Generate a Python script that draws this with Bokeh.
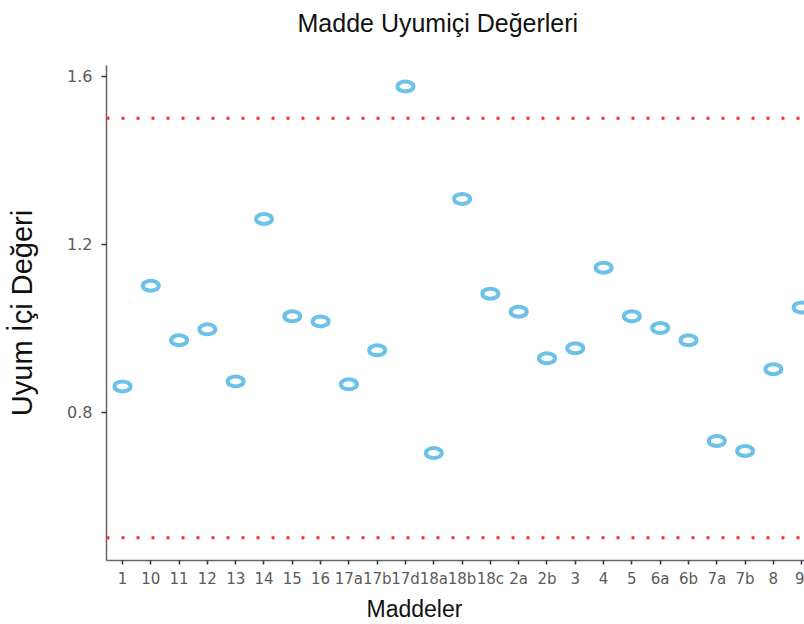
from bokeh.plotting import figure
from bokeh.models import Span, FixedTicker, ColumnDataSource, Range1d, Title
from bokeh.embed import file_html
from bokeh.resources import INLINE

items = ["1", "10", "11", "12", "13", "14", "15", "16", "17a", "17b", "17d", "18a",
         "18b", "18c", "2a", "2b", "3", "4", "5", "6a", "6b", "7a", "7b", "8", "9"]
infit = [0.861, 1.101, 0.971, 0.997, 0.873, 1.260, 1.028, 1.016, 0.866, 0.947, 1.576, 0.702,
         1.308, 1.082, 1.039, 0.928, 0.952, 1.144, 1.028, 1.000, 0.971, 0.731, 0.707, 0.902, 1.049]
y_ticks = [0.8, 1.2, 1.6]
limits = [0.5, 1.5]

idx = list(range(len(items)))
src = ColumnDataSource(dict(x=idx, y=infit, item=items))

p = figure(width=804, height=624, output_backend="svg", toolbar_location=None,
           x_range=Range1d(-0.565, 24.1), y_range=Range1d(0.446, 1.626),
           min_border_left=106, min_border_right=0, min_border_top=65, min_border_bottom=62)
# trailing empty line lifts the title higher above the plot area
p.title = Title(text="Madde Uyumiçi Değerleri\n ", align="left", offset=191,
                text_font="Liberation Sans", text_font_size="25px",
                text_font_style="normal", text_color="#111111", standoff=2)
p.outline_line_color = None
p.xgrid.visible = False
p.ygrid.visible = False
p.background_fill_color = "white"
p.border_fill_color = "white"

for v in limits:
    p.add_layout(Span(location=v, dimension="width", line_color="#ff2a2a",
                      line_width=3, line_dash="3 12"))

p.ellipse(x="x", y="y", width=16, height=10, width_units="screen", height_units="screen",
          fill_color=None, line_color="#6cc1e8", line_width=4, source=src)

xa = p.xaxis[0]
xa.ticker = FixedTicker(ticks=idx)
xa.major_label_overrides = {i: s for i, s in zip(idx, items)}
xa.major_label_text_font = "DejaVu Sans"
xa.major_label_text_font_size = "15px"
xa.major_label_text_color = "#5a5a5a"
xa.major_label_standoff = 5
xa.axis_line_color = "#666666"
xa.axis_line_width = 1.5
xa.major_tick_line_color = "#333333"
xa.major_tick_line_width = 1.5
xa.major_tick_out = 4
xa.major_tick_in = 0
xa.minor_tick_line_color = None

# x-axis title (the original plot is wider than the visible area, so it sits left of centre)
p.add_layout(Title(text="Maddeler", align="left", offset=260,
                   text_font="Liberation Sans", text_font_size="23px",
                   text_font_style="normal", text_color="#111111", standoff=6), "below")

ya = p.yaxis[0]
ya.ticker = FixedTicker(ticks=y_ticks)
ya.axis_label = "Uyum İçi Değeri"
ya.axis_label_text_font = "Liberation Sans"
ya.axis_label_text_font_size = "29px"
ya.axis_label_text_font_style = "normal"
ya.axis_label_text_color = "#111111"
ya.axis_label_standoff = 26
ya.major_label_text_font = "DejaVu Sans"
ya.major_label_text_font_size = "16px"
ya.major_label_text_color = "#5a5a5a"
ya.major_label_standoff = 9
ya.axis_line_color = "#666666"
ya.axis_line_width = 1.5
ya.major_tick_line_color = "#333333"
ya.major_tick_line_width = 1.5
ya.major_tick_out = 5
ya.major_tick_in = 0
ya.minor_tick_line_color = None

open("out.html", "w").write(file_html(p, INLINE))
